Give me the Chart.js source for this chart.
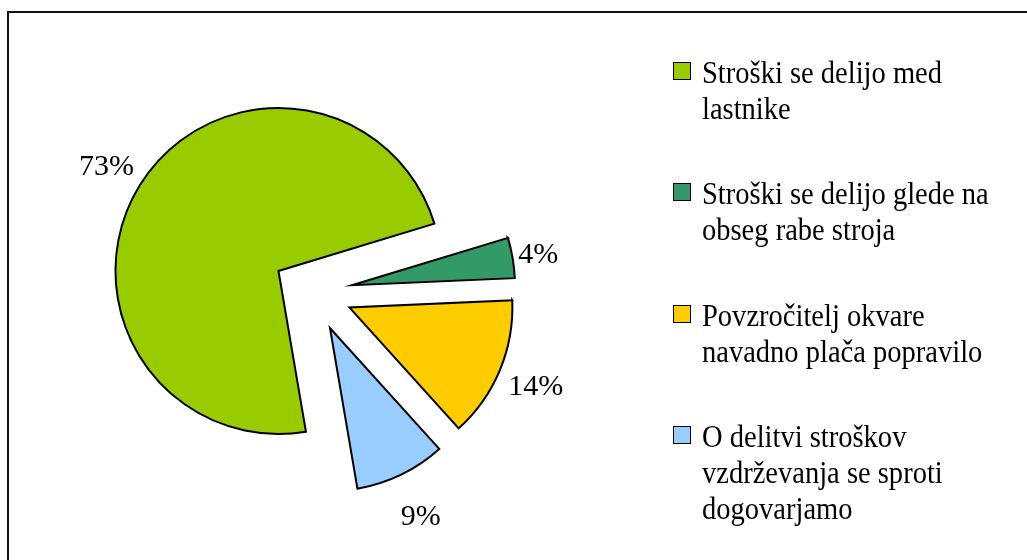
<!DOCTYPE html>
<html><head><meta charset="utf-8">
<script src="https://cdn.jsdelivr.net/npm/chart.js@4.4.1/dist/chart.umd.min.js"></script>
<style>
html,body{margin:0;padding:0;background:#fff;width:1027px;height:560px;overflow:hidden;}
#frame{position:absolute;left:7px;top:11px;width:1100px;height:600px;border:2px solid #111;box-sizing:border-box;}
#wrap{position:absolute;left:0;top:0;width:1027px;height:560px;}
#legend{position:absolute;left:673px;top:0;}
.item{position:absolute;left:0;width:340px;font-family:"Liberation Serif","Times New Roman",serif;font-size:31px;line-height:36px;color:#000;}
.sw{position:absolute;left:0;top:7px;width:16px;height:16px;border:1.5px solid #000;}
.tx{position:absolute;left:29px;top:0;width:322px;transform:scaleX(0.92);transform-origin:0 0;}
</style></head>
<body>
<div id="frame"></div>
<div id="wrap"><canvas id="c" width="1027" height="560"></canvas></div>
<div id="legend"></div>
<script>
const categories = [
  'Stroški se delijo med lastnike',
  'Stroški se delijo glede na obseg rabe stroja',
  'Povzročitelj okvare navadno plača popravilo',
  'O delitvi stroškov vzdrževanja se sproti dogovarjamo'
];
const values = [73, 4, 14, 9];
const valueLabels = values.map(v => v + '%');
const colors = ['#99CC00', '#339966', '#FFCC00', '#99CCFF'];

// HTML legend built from the arrays
const legend = document.getElementById('legend');
categories.forEach((label, i) => {
  const item = document.createElement('div');
  item.className = 'item';
  item.style.top = (55 + i * 121.3) + 'px';
  const sw = document.createElement('div');
  sw.className = 'sw';
  sw.style.background = colors[i];
  const tx = document.createElement('div');
  tx.className = 'tx';
  tx.textContent = label;
  item.appendChild(sw);
  item.appendChild(tx);
  legend.appendChild(item);
});

const explodePlugin = {
  id: 'explode',
  afterDatasetUpdate(chart, args, opts) {
    const meta = chart.getDatasetMeta(args.index);
    meta.data.forEach(arc => {
      const mid = (arc.startAngle + arc.endAngle) / 2;
      arc.x += Math.cos(mid) * opts.distance;
      arc.y += Math.sin(mid) * opts.distance;
    });
  }
};

const labelPlugin = {
  id: 'sliceLabels',
  afterDatasetsDraw(chart, args, opts) {
    const ctx = chart.ctx;
    const meta = chart.getDatasetMeta(0);
    ctx.save();
    ctx.font = opts.font;
    ctx.fillStyle = '#000';
    ctx.textAlign = 'center';
    ctx.textBaseline = 'alphabetic';
    meta.data.forEach((arc, i) => {
      const mid = (arc.startAngle + arc.endAngle) / 2;
      const d = opts.distances[i];
      const x = arc.x + Math.cos(mid) * d;
      const y = arc.y + Math.sin(mid) * d;
      ctx.fillText(valueLabels[i], x, y + opts.baselineShift);
    });
    ctx.restore();
  }
};

new Chart(document.getElementById('c'), {
  type: 'pie',
  data: {
    labels: categories,
    datasets: [{
      data: values,
      backgroundColor: colors,
      borderColor: '#000',
      borderWidth: 2,
      borderJoinStyle: 'miter'
    }]
  },
  options: {
    responsive: false,
    animation: false,
    rotation: 170.3,
    radius: 163,
    layout: { padding: { left: 0, right: 402, top: 24, bottom: 0 } },
    plugins: {
      legend: { display: false },
      tooltip: { enabled: false },
      explode: { distance: 40 },
      sliceLabels: {
        font: '30px "Liberation Serif"',
        distances: [202, 189, 202, 208],
        baselineShift: 10
      }
    }
  },
  plugins: [explodePlugin, labelPlugin]
});
</script>
</body></html>
